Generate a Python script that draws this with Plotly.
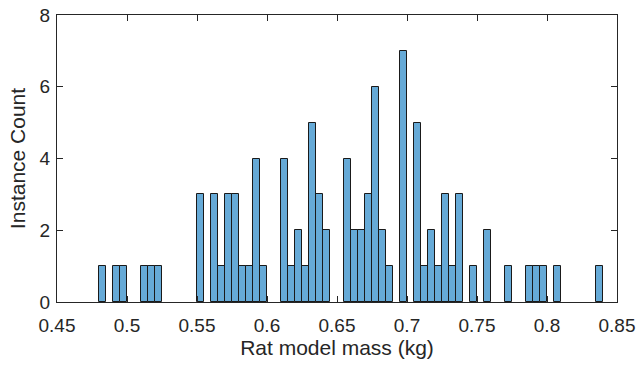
import plotly.graph_objects as go

# Histogram bin centers (kg) for non-empty bins, bin width 0.005
bin_centers = [0.4822, 0.4922, 0.4972, 0.5122, 0.5172, 0.5222,
               0.5522, 0.5622, 0.5672, 0.5722, 0.5772, 0.5822, 0.5872, 0.5922, 0.5972,
               0.6122, 0.6172, 0.6222, 0.6272, 0.6322, 0.6372, 0.6422,
               0.6572, 0.6622, 0.6672, 0.6722, 0.6772, 0.6822, 0.6872,
               0.6972, 0.7072, 0.7122, 0.7172, 0.7222, 0.7272, 0.7322, 0.7372,
               0.7472, 0.7572, 0.7722, 0.7872, 0.7922, 0.7972, 0.8072, 0.8372]
counts = [1, 1, 1, 1, 1, 1,
          3, 3, 1, 3, 3, 1, 1, 4, 1,
          4, 1, 2, 1, 5, 3, 2,
          4, 2, 2, 3, 6, 2, 1,
          7, 5, 1, 2, 1, 3, 1, 3,
          1, 2, 1, 1, 1, 1, 1, 1]
bin_width = 0.005
x_ticks = [0.45, 0.5, 0.55, 0.6, 0.65, 0.7, 0.75, 0.8, 0.85]
x_tick_labels = ["0.45", "0.5", "0.55", "0.6", "0.65", "0.7", "0.75", "0.8", "0.85"]
y_ticks = [0, 2, 4, 6, 8]

fig = go.Figure(go.Bar(
    x=bin_centers, y=counts, width=bin_width,
    marker=dict(color="rgba(0,114,189,0.6)", line=dict(color="#1a1a1a", width=1)),
    showlegend=False,
))

axis_common = dict(
    showline=True, linecolor="#262626", linewidth=1, mirror="ticks",
    ticks="inside", ticklen=6, tickcolor="#262626", tickwidth=1,
    showgrid=False, zeroline=False, automargin=False,
    tickfont=dict(family="Liberation Sans, Arial", size=19, color="#262626"),
)

fig.update_layout(
    width=638, height=366,
    margin=dict(l=57, r=21, t=15, b=64),
    paper_bgcolor="white", plot_bgcolor="white",
    bargap=0,
    xaxis=dict(range=[0.45, 0.85], tickvals=x_ticks, ticktext=x_tick_labels,
               ticklabelstandoff=6,
               title=dict(text="Rat model mass (kg)", standoff=2,
                          font=dict(family="Liberation Sans, Arial", size=21, color="#262626")),
               **axis_common),
    yaxis=dict(range=[0, 8], tickvals=y_ticks, ticklabelstandoff=2,
               title=dict(text="Instance Count", standoff=8,
                          font=dict(family="Liberation Sans, Arial", size=21, color="#262626")),
               **axis_common),
)

fig.write_html("out.html", config={"displayModeBar": False},
               post_script="document.body.style.margin='0';document.body.style.overflow='hidden';")
